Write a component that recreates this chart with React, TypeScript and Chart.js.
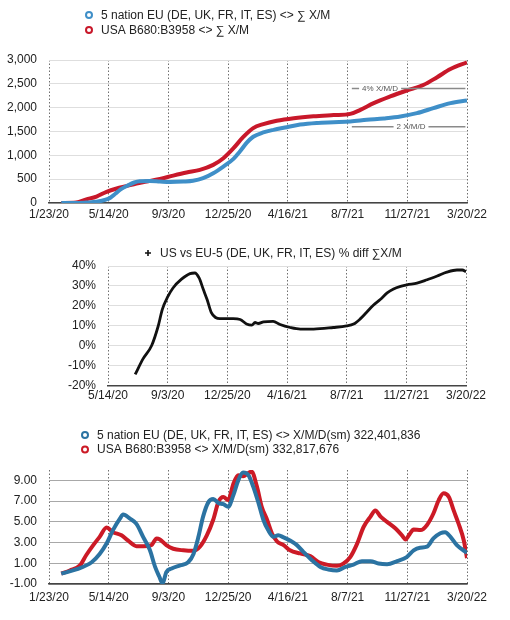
import React, { useEffect, useRef } from 'react';
import { Chart, registerables } from 'chart.js';
Chart.register(...registerables);

// ---------- shared axis labels ----------
const DATE_TICKS = ['1/23/20', '5/14/20', '9/3/20', '12/25/20', '4/16/21', '8/7/21', '11/27/21', '3/20/22'];
const TICK_DAYS = 112; // days between labelled ticks
const LAST_DAY = 784;

// ---------- chart 1: cumulative X/M ----------
const EU_CUM_LABEL = '5 nation EU (DE, UK, FR, IT, ES) <> ∑ X/M';
const US_CUM_LABEL = 'USA B680:B3958 <> ∑ X/M';
const EU_CUM_DAYS = [23, 51, 70, 89, 108, 115, 125, 135, 148, 160, 170, 189, 208, 227, 252, 270, 289, 308, 327, 346, 358, 371, 383, 402, 421, 446, 471, 502, 534, 565, 596, 628, 659, 690, 721, 753, 784];
const EU_CUM = [0, 0, 10, 25, 75, 110, 200, 290, 370, 430, 455, 460, 450, 442, 450, 465, 520, 625, 765, 925, 1080, 1265, 1390, 1480, 1535, 1590, 1645, 1680, 1695, 1710, 1745, 1775, 1815, 1885, 1990, 2095, 2150];
const US_CUM_DAYS = [23, 51, 70, 89, 108, 127, 145, 164, 183, 208, 233, 258, 283, 308, 327, 346, 364, 383, 402, 427, 459, 496, 534, 565, 584, 609, 640, 671, 703, 728, 753, 784];
const US_CUM = [0, 10, 75, 135, 235, 305, 355, 410, 450, 505, 575, 640, 695, 800, 940, 1150, 1380, 1570, 1655, 1725, 1780, 1820, 1845, 1870, 1955, 2095, 2235, 2360, 2480, 2640, 2810, 2950];
const REF_LABELS = ['4% X/M/D', '2 X/M/D'];
const REF_VALUES = [2400, 1600];
const REF_FROM = [568, 568];
const REF_TO = [781, 781];
const REF_TEXT_AT = [621, 679];

// ---------- chart 2: % diff ----------
const DIFF_LABEL = 'US vs EU-5 (DE, UK, FR, IT, ES) % diff ∑X/M';
const DIFF_DAYS = [163, 178, 194, 206, 214, 224, 234, 250, 266, 275, 283, 291, 298, 306, 314, 322, 347, 360, 372, 382, 388, 394, 404, 422, 435, 454, 473, 498, 535, 560, 573, 585, 598, 610, 623, 636, 648, 661, 673, 692, 711, 730, 748, 767, 777, 784];
const DIFF_PCT = [-14.3, -6.4, 0.2, 9.7, 18.3, 24.5, 29, 33.4, 36.2, 36.5, 34, 28.2, 23.2, 16.6, 14.2, 13.6, 13.6, 13.2, 11, 10.4, 11.7, 11.2, 12, 12.3, 10.7, 9.2, 8.4, 8.4, 9.2, 10, 10.9, 13.4, 17, 20.3, 23.2, 26.5, 28.5, 29.8, 30.6, 31.4, 33.1, 35, 36.9, 38, 38, 37.2];

// ---------- chart 3: daily X/M/D (smoothed) ----------
const EU_DAILY_LABEL = '5 nation EU (DE, UK, FR, IT, ES) <> X/M/D(sm) 322,401,836';
const US_DAILY_LABEL = 'USA B680:B3958 <> X/M/D(sm) 332,817,676';
const EU_DAILY_DAYS = [23, 51, 80, 95, 108, 120, 133, 139, 152, 164, 177, 189, 199, 207, 213, 220, 230, 246, 261, 271, 280, 289, 299, 308, 318, 327, 336, 346, 355, 364, 374, 383, 393, 402, 411, 421, 430, 440, 452, 465, 477, 493, 509, 524, 540, 556, 571, 587, 603, 618, 634, 653, 671, 684, 696, 709, 721, 734, 743, 753, 765, 784];
const EU_DAILY = [0, 0.4, 1.1, 1.9, 2.9, 4.2, 5.3, 5.7, 5.3, 4.8, 3.5, 2.3, 0.65, -0.3, -0.95, 0.15, 0.5, 0.8, 1.1, 1.9, 3.5, 5.5, 6.9, 7.2, 6.8, 6.7, 6.45, 7.6, 9.0, 9.75, 9.5, 8.4, 6.8, 5.2, 4.2, 3.55, 3.7, 3.5, 3.2, 2.75, 2.1, 1.3, 0.65, 0.4, 0.3, 0.65, 0.87, 1.2, 1.2, 0.97, 0.9, 1.2, 1.6, 2.25, 2.5, 2.6, 3.4, 3.9, 4.0, 3.55, 2.75, 2.0];
const US_DAILY_DAYS = [23, 39, 58, 70, 83, 95, 108, 120, 136, 148, 164, 177, 192, 202, 208, 220, 233, 252, 271, 283, 296, 308, 318, 327, 336, 346, 355, 364, 374, 380, 390, 399, 409, 418, 428, 440, 452, 471, 490, 506, 521, 540, 552, 565, 578, 590, 603, 612, 622, 634, 650, 662, 669, 675, 684, 697, 709, 721, 731, 740, 750, 759, 768, 778, 784];
const US_DAILY = [0, 0.3, 0.8, 1.8, 2.75, 3.55, 4.45, 4.0, 3.7, 3.2, 2.65, 2.65, 2.75, 3.4, 3.3, 2.75, 2.4, 2.25, 2.2, 2.6, 3.7, 5.2, 6.95, 7.4, 7.1, 8.7, 9.5, 9.4, 9.7, 9.85, 8.4, 6.45, 5.2, 3.9, 3.1, 2.75, 2.25, 1.95, 1.7, 1.1, 0.87, 0.75, 0.97, 1.6, 2.9, 4.5, 5.5, 6.1, 5.5, 5.0, 4.35, 3.7, 3.3, 3.7, 4.25, 4.2, 4.7, 5.8, 7.1, 7.75, 7.4, 6.1, 4.85, 3.2, 1.5];

// ---------- styling ----------
const FONT = "'Liberation Sans', Arial, Helvetica, sans-serif";
const TICK_FONT = { family: FONT, size: 12 };
const TEXT = '#222';

const pts = (xs: number[], ys: number[]) => xs.map((x, i) => ({ x, y: ys[i] }));

// Legend drawn one item per row
const rowLegend = {
  id: 'rowLegend',
  afterDraw(chart: any, _a: any, opts: any) {
    if (!opts || opts.display === false) return;
    const ctx = chart.ctx;
    ctx.save();
    ctx.font = `${opts.size || 12}px ${FONT}`;
    ctx.textBaseline = 'middle';
    ctx.textAlign = 'left';
    chart.data.datasets.forEach((ds: any, i: number) => {
      const y = opts.y + i * opts.rowH;
      ctx.strokeStyle = ds.borderColor;
      ctx.fillStyle = ds.borderColor;
      if (opts.marker === 'plus') {
        ctx.lineWidth = 1.6;
        ctx.beginPath();
        ctx.moveTo(opts.x - 3, y); ctx.lineTo(opts.x + 3, y);
        ctx.moveTo(opts.x, y - 3); ctx.lineTo(opts.x, y + 3);
        ctx.stroke();
      } else {
        ctx.lineWidth = 2;
        ctx.beginPath();
        ctx.arc(opts.x, y, 3, 0, Math.PI * 2);
        ctx.stroke();
      }
      ctx.fillStyle = TEXT;
      ctx.fillText(ds.label, opts.textX, y + 0.5);
    });
    ctx.restore();
  },
};

// Reference lines with inline text
const refLines = {
  id: 'refLines',
  afterDatasetsDraw(chart: any, _a: any, opts: any) {
    if (!opts || !opts.labels) return;
    const { ctx, scales } = chart;
    ctx.save();
    ctx.font = `8px ${FONT}`;
    ctx.textBaseline = 'middle';
    ctx.textAlign = 'center';
    opts.labels.forEach((lab: string, i: number) => {
      const y = scales.y.getPixelForValue(opts.values[i]);
      const x1 = scales.x.getPixelForValue(opts.from[i]);
      const x2 = scales.x.getPixelForValue(opts.to[i]);
      const xt = scales.x.getPixelForValue(opts.textAt[i]);
      const w = ctx.measureText(lab).width / 2 + 3;
      ctx.strokeStyle = '#8a8a8a';
      ctx.lineWidth = 1.5;
      ctx.beginPath();
      ctx.moveTo(x1, y); ctx.lineTo(xt - w, y);
      ctx.moveTo(xt + w, y); ctx.lineTo(x2, y);
      ctx.stroke();
      ctx.fillStyle = '#555';
      ctx.fillText(lab, xt, y + 0.5);
    });
    ctx.restore();
  },
};

function xScale(min: number, height: number, pad: number) {
  return {
    type: 'linear',
    min,
    max: LAST_DAY,
    afterBuildTicks: (s: any) => {
      s.ticks = DATE_TICKS.map((_, i) => ({ value: i * TICK_DAYS })).filter((t) => t.value >= min);
    },
    ticks: {
      callback: (v: number) => DATE_TICKS[Math.round(v / TICK_DAYS)],
      autoSkip: false,
      maxRotation: 0,
      padding: pad,
      color: TEXT,
      font: TICK_FONT,
    },
    grid: { color: '#6f6f6f', lineWidth: 1, drawTicks: false },
    border: { display: true, color: '#444', width: 1.5, dash: [1.5, 2] },
    afterFit: (s: any) => { s.height = height; },
  };
}

function yScale(min: number, max: number, step: number, width: number, gridColor: string, cb: (v: number) => string) {
  return {
    min,
    max,
    ticks: { stepSize: step, callback: cb, color: TEXT, font: TICK_FONT, padding: 12 },
    grid: { color: gridColor, lineWidth: 1, drawTicks: false },
    border: { display: false },
    afterFit: (s: any) => { s.width = width; },
  };
}

function ChartCanvas({ top, height, make }: { top: number; height: number; make: () => any }) {
  const ref = useRef<HTMLCanvasElement | null>(null);
  useEffect(() => {
    if (!ref.current) return;
    const chart = new Chart(ref.current, make());
    return () => chart.destroy();
  }, []);
  return (
    <canvas
      ref={ref}
      width={510}
      height={height}
      style={{ position: 'absolute', left: 0, top, width: 510, height }}
    />
  );
}

const lineDs = (label: string, data: any[], color: string, width: number) => ({
  label,
  data,
  borderColor: color,
  backgroundColor: color,
  borderWidth: width,
  pointRadius: 0,
  fill: false,
  cubicInterpolationMode: 'monotone',
});

const cumConfig = () => ({
  type: 'line',
  data: {
    datasets: [
      lineDs(EU_CUM_LABEL, pts(EU_CUM_DAYS, EU_CUM), '#3f8fc8', 4),
      lineDs(US_CUM_LABEL, pts(US_CUM_DAYS, US_CUM), '#c8182a', 4),
    ],
  },
  options: {
    responsive: false,
    animation: false,
    layout: { padding: { top: 60, right: 43, left: 0, bottom: 0 } },
    scales: {
      x: xScale(0, 22, 4),
      y: yScale(0, 3000, 500, 49, '#dedede', (v) => Number(v).toLocaleString('en-US')),
    },
    plugins: {
      legend: { display: false },
      tooltip: { enabled: false },
      rowLegend: { x: 89, y: 15, rowH: 15, textX: 101, size: 12 },
      refLines: { labels: REF_LABELS, values: REF_VALUES, from: REF_FROM, to: REF_TO, textAt: REF_TEXT_AT },
    },
  },
  plugins: [rowLegend, refLines],
});

const diffConfig = () => ({
  type: 'line',
  data: {
    datasets: [lineDs(DIFF_LABEL, pts(DIFF_DAYS, DIFF_PCT), '#111111', 2.8)],
  },
  options: {
    responsive: false,
    animation: false,
    layout: { padding: { top: 26, right: 44, left: 0, bottom: 0 } },
    scales: {
      x: xScale(TICK_DAYS, 17, 3),
      y: yScale(-20, 40, 10, 108, '#dedede', (v) => `${v}%`),
    },
    plugins: {
      legend: { display: false },
      tooltip: { enabled: false },
      rowLegend: { x: 148, y: 13, rowH: 15, textX: 160, size: 12, marker: 'plus' },
    },
  },
  plugins: [rowLegend],
});

const dailyConfig = () => ({
  type: 'line',
  data: {
    datasets: [
      lineDs(EU_DAILY_LABEL, pts(EU_DAILY_DAYS, EU_DAILY), '#2b73a2', 4),
      lineDs(US_DAILY_LABEL, pts(US_DAILY_DAYS, US_DAILY), '#cc1a26', 4),
    ],
  },
  options: {
    responsive: false,
    animation: false,
    layout: { padding: { top: 50, right: 43, left: 0, bottom: 0 } },
    scales: {
      x: xScale(0, 36, 6),
      y: yScale(-1, 10, 1, 49, '#a8a8a8', (v) => (Math.abs(Number(v)) % 2 === 1 ? Number(v).toFixed(2) : '')),
    },
    plugins: {
      legend: { display: false },
      tooltip: { enabled: false },
      rowLegend: { x: 85, y: 15, rowH: 14.6, textX: 97, size: 12 },
    },
  },
  plugins: [rowLegend],
});

export default function App() {
  return (
    <div style={{ position: 'absolute', left: 0, top: 0, width: 510, height: 620, background: '#fff', overflow: 'hidden' }}>
      <ChartCanvas top={0} height={225} make={cumConfig} />
      <ChartCanvas top={240} height={165} make={diffConfig} />
      <ChartCanvas top={420} height={200} make={dailyConfig} />
    </div>
  );
}
